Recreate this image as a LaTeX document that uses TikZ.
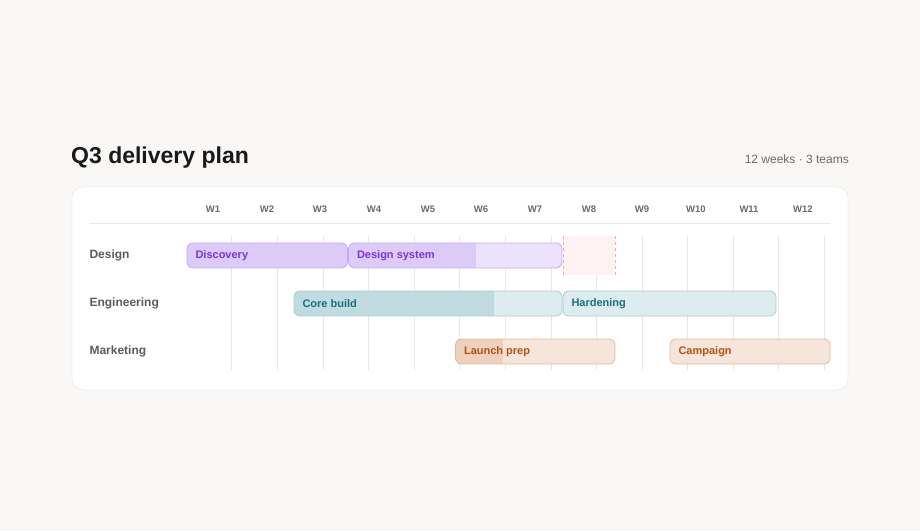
\documentclass[tikz,border=0pt]{standalone}
\usepackage{fontspec}
\setmainfont{Liberation Sans}
\begin{document}
\begin{tikzpicture}[x=1pt,y=-1pt,
  lbl/.style={font=\bfseries\fontsize{9.5}{11}\selectfont,text=wk},
  row/.style={font=\bfseries\fontsize{12}{14}\selectfont,text=rowc,anchor=west},
  bartxt/.style={font=\bfseries\fontsize{11}{13}\selectfont,anchor=west}]
\definecolor{bg}{HTML}{F9F8F6}
\definecolor{wk}{HTML}{6E6A66}
\definecolor{rowc}{HTML}{5F5B57}
\definecolor{gridc}{HTML}{EAE8E6}
\definecolor{cardb}{HTML}{E2E0DD}
\definecolor{pD}{HTML}{DCCBF7}\definecolor{pL}{HTML}{EDE2FB}\definecolor{pB}{HTML}{C9A9F5}\definecolor{pT}{HTML}{7B35D9}
\definecolor{tD}{HTML}{C0DCE1}\definecolor{tL}{HTML}{DDECEF}\definecolor{tB}{HTML}{A8CDD6}\definecolor{tT}{HTML}{1A6E85}
\definecolor{oD}{HTML}{EDD0BE}\definecolor{oL}{HTML}{F5E5DB}\definecolor{oB}{HTML}{E6B99A}\definecolor{oT}{HTML}{B5520F}
\useasboundingbox (0,0) rectangle (920,531);
\fill[bg] (0,0) rectangle (920,531);
\node[anchor=base west,inner sep=0,font=\bfseries\fontsize{23}{26}\selectfont,text=black!90] (title) at (71,163) {Q3 delivery plan};
\node[anchor=base east,inner sep=0,font=\fontsize{12}{14}\selectfont,text=wk] (sub) at (849,163) {12 weeks · 3 teams};
\draw[cardb,fill=white,rounded corners=11] (72,187) rectangle (848,390);
\draw[gridc] (90,223.5) -- (830,223.5);
\foreach \i/\x in {1/213,2/267,3/320,4/374,5/428,6/481,7/535,8/589,9/642,10/696,11/749,12/803}
  \node[lbl] (w\i) at (\x,209) {W\i};
\foreach \x in {231.5,277,323,368.5,414,459.5,505,551,596.5,642,687.5,733,778.5,824}
  \draw[gridc,line width=0.8pt] (\x,236) -- (\x,370);
\node[row] (rd) at (86,255.5) {Design};
\node[row] (re) at (86,303.5) {Engineering};
\node[row] (rm) at (86,351.5) {Marketing};
% overlap marker
\fill[red!5] (563,236) rectangle (615,275);
\draw[red!35,dashed,line width=0.7pt] (563,236) -- (563,275) (615,236) -- (615,275);
% bars
\newcommand{\gbar}[9]{% x1 x2 xsplit y dark light border text label
  \begin{scope}
  \clip[rounded corners=6] (#1,#4) rectangle (#2,#4+25);
  \fill[#6] (#1,#4) rectangle (#2,#4+25);
  \fill[#5] (#1,#4) rectangle (#3,#4+25);
  \end{scope}
  \draw[#7,line width=0.8pt,rounded corners=6] (#1,#4) rectangle (#2,#4+25);
  \node[bartxt,text=#8] at (#1+5,#4+13) {#9};}
\gbar{187}{347.5}{347.5}{243}{pD}{pL}{pB}{pT}{Discovery}
\gbar{348.5}{562}{476}{243}{pD}{pL}{pB}{pT}{Design system}
\gbar{294}{562}{494}{291}{tD}{tL}{tB}{tT}{Core build}
\gbar{563}{776}{563}{291}{tD}{tL}{tB}{tT}{Hardening}
\gbar{455.5}{615}{503}{339}{oD}{oL}{oB}{oT}{Launch prep}
\gbar{670}{830}{670}{339}{oD}{oL}{oB}{oT}{Campaign}
\end{tikzpicture}
\end{document}
